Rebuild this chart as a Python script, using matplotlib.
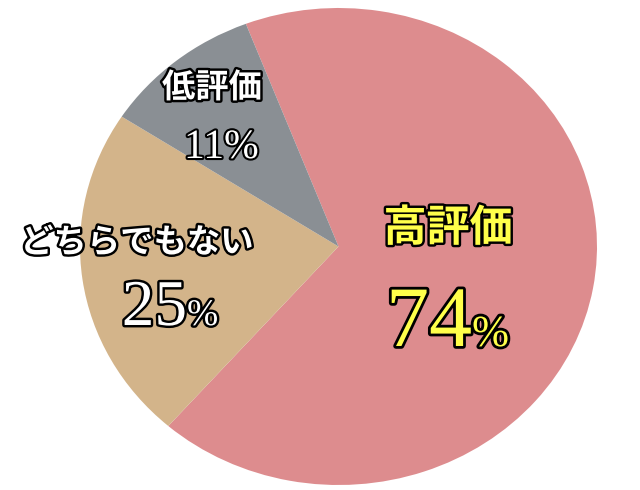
import matplotlib.pyplot as plt
import matplotlib.patheffects as pe

labels = ["高評価", "どちらでもない", "低評価"]
values = [74, 25, 11]
colors = ["#DD8C8E", "#D3B48A", "#8A8F94"]

# where the pie sits in the picture (pixels)
CX, CY, RX, RY = 338.5, 246.5, 258.5, 238.5
W, H = 640, 490


def px(x, y):
    # pixel position -> data coords of the stretched pie
    return (x - CX) / RX, (CY - y) / RY


fig = plt.figure(figsize=(6.4, 4.9), dpi=100)
ax = fig.add_axes([0, 0, 1, 1])
ax.pie(values, colors=colors, startangle=111, counterclock=False,
       wedgeprops={"linewidth": 0})
ax.set_aspect("auto")
ax.set_xlim(px(0, 0)[0], px(W, 0)[0])
ax.set_ylim(px(0, H)[1], px(0, 0)[1])
ax.axis("off")

jp = ["Noto Sans CJK JP", "DejaVu Sans"]
num = ["Liberation Serif", "DejaVu Serif"]


def stroke(lw):
    return [pe.withStroke(linewidth=lw, foreground="black")]


def pct_label(x, y, value, size, psize, color, lw):
    # number and a smaller % sign sharing one baseline
    bx, by = px(x, y)
    ax.text(bx, by, str(value), ha="right", va="baseline", fontsize=size,
            family=num, color=color, path_effects=stroke(lw))
    ax.text(bx, by, "%", ha="left", va="baseline", fontsize=psize,
            family=num, color=color, path_effects=stroke(lw))


# 高評価
ax.text(*px(448, 228), labels[0], ha="center", va="center", fontsize=31,
        family=jp, weight="bold", color="#FFFF4A", path_effects=stroke(3.5))
pct_label(472, 346, values[0], 62, 32, "#FFFF4A", 4)

# どちらでもない
ax.text(*px(137, 243), labels[1], ha="center", va="center", fontsize=24,
        family=jp, weight="bold", color="white", path_effects=stroke(3.5))
pct_label(187, 325, values[1], 47, 27, "white", 3.5)

# 低評価
ax.text(*px(212, 88), labels[2], ha="center", va="center", fontsize=24,
        family=jp, weight="bold", color="white", path_effects=stroke(3.5))
pct_label(224, 158, values[2], 30, 30, "white", 3)

fig.savefig("out.png", dpi=100)
